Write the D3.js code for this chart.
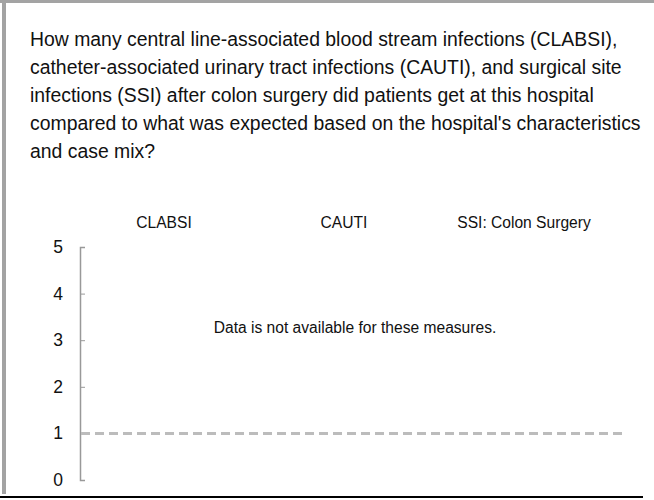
<!DOCTYPE html>
<html>
  <script src="https://cdnjs.cloudflare.com/ajax/libs/d3/7.8.5/d3.min.js"></script>
  <style>
    html, body {
      width: 654px;
      height: 500px;
      padding: 0px;
      margin: 0px;
      background: #fff;
      overflow: hidden;
    }
    #chart {
      position: absolute;
      left: 0;
      top: 0;
    }
    text {
      font-family: "Liberation Sans", Arial, sans-serif;
    }
  </style>
  <body>
    <div id="chart"></div>
    <script>
      var titleLines = [
        "How many central line-associated blood stream infections (CLABSI),",
        "catheter-associated urinary tract infections (CAUTI), and surgical site",
        "infections (SSI) after colon surgery did patients get at this hospital",
        "compared to what was expected based on the hospital's characteristics",
        "and case mix?"
      ];
      var measures = ["CLABSI", "CAUTI", "SSI: Colon Surgery"];
      var yTicks = [0, 1, 2, 3, 4, 5];
      var expectedRatio = 1;
      var noDataMessage = "Data is not available for these measures.";

      var width = 654, height = 500;
      var svg = d3.select("#chart").append("svg")
        .attr("width", width)
        .attr("height", height);

      // frame
      svg.append("rect").attr("x", 0).attr("y", 0).attr("width", width).attr("height", 3).attr("fill", "#a3a3a3");
      svg.append("rect").attr("x", 2).attr("y", 0).attr("width", 4).attr("height", 494).attr("fill", "#a3a3a3");
      svg.append("rect").attr("x", 0).attr("y", 496).attr("width", 643).attr("height", 2).attr("fill", "#000");

      // question
      svg.append("g").selectAll("text")
        .data(titleLines)
        .enter().append("text")
          .attr("x", 30)
          .attr("y", function(d, i) { return 46 + i * 28; })
          .style("font-size", "19.4px")
          .attr("fill", "#111")
          .text(function(d) { return d; });

      var x = d3.scaleBand().domain(measures).range([74, 614]);
      var y = d3.scaleLinear().domain([0, 5]).range([480, 247]);

      // measure headers
      svg.append("g").selectAll("text")
        .data(measures)
        .enter().append("text")
          .attr("x", function(d) { return x(d) + x.bandwidth() / 2; })
          .attr("y", 228)
          .attr("text-anchor", "middle")
          .style("font-size", "15.6px")
          .attr("fill", "#111")
          .text(function(d) { return d; });

      // y axis
      var yAxis = d3.axisRight(y).tickValues(yTicks).tickSize(5).tickFormat("");
      var ag = svg.append("g").attr("transform", "translate(80,0)").call(yAxis);
      ag.select(".domain").attr("stroke", "#999").attr("stroke-width", 1.5);
      ag.selectAll(".tick line").attr("stroke", "#999").attr("stroke-width", 1);

      svg.append("g").selectAll("text")
        .data(yTicks)
        .enter().append("text")
          .attr("x", 58)
          .attr("y", function(d) { return y(d) + 6; })
          .attr("text-anchor", "middle")
          .style("font-size", "17.5px")
          .attr("fill", "#111")
          .text(function(d) { return d; });

      // expected line
      svg.append("line")
        .attr("x1", 81).attr("x2", 622)
        .attr("y1", y(expectedRatio)).attr("y2", y(expectedRatio))
        .attr("stroke", "#bcbcbc")
        .attr("stroke-width", 3)
        .attr("stroke-dasharray", "9,5");

      svg.append("text")
        .attr("x", 355)
        .attr("y", 333)
        .attr("text-anchor", "middle")
        .style("font-size", "15.6px")
        .attr("fill", "#111")
        .text(noDataMessage);
    </script>
  </body>
</html>
